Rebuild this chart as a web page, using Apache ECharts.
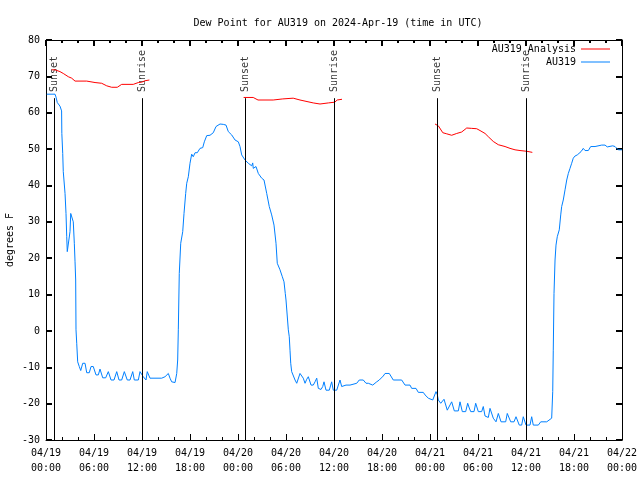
<!DOCTYPE html>
<html>
<head>
<meta charset="utf-8">
<script src="https://cdn.jsdelivr.net/npm/echarts@6/dist/echarts.min.js"></script>
<style>html,body{margin:0;padding:0;background:#fff}#c{width:640px;height:480px}</style>
</head>
<body>
<div id="c"></div>
<script>
const FONT = 'DejaVu Sans Mono';
const titleText = 'Dew Point for AU319 on 2024-Apr-19 (time in UTC)';
const yAxisName = 'degrees F';
const xTickLabels = ['04/19\n00:00','04/19\n06:00','04/19\n12:00','04/19\n18:00','04/20\n00:00','04/20\n06:00','04/20\n12:00','04/20\n18:00','04/21\n00:00','04/21\n06:00','04/21\n12:00','04/21\n18:00','04/22\n00:00'];
const seriesNames = ['AU319 Analysis', 'AU319'];

// hours since 04/19 00:00 UTC
const eventHours = [1.04, 12.0, 24.96, 36.0, 48.92, 60.04];
const eventNames = ['Sunset', 'Sunrise', 'Sunset', 'Sunrise', 'Sunset', 'Sunrise'];
const eventLineTop = 64.0;
const eventLabelBase = 65.7;

const analysisSeg1 = [[0.71,71.8],[0.84,72.2],[1.13,71.8],[1.75,71.3],[2.16,70.8],[2.79,69.9],[3.21,69.5],[3.63,68.7],[5.09,68.7],[6.13,68.3],[6.96,68.1],[7.59,67.4],[8.21,67.0],[8.91,67.0],[9.46,67.8],[10.91,67.8],[11.54,68.3],[11.96,68.4],[12.38,68.8],[12.92,69.0]];
const analysisSeg2 = [[24.7,64.2],[25.9,64.2],[26.5,63.5],[28.4,63.5],[29.6,63.8],[30.9,64.0],[31.75,63.5],[33.4,62.7],[34.25,62.4],[35.3,62.7],[36.1,62.9],[36.4,63.5],[37.0,63.7]];
const analysisSeg3 = [[48.63,56.9],[49.04,56.4],[49.6,54.5],[50.09,54.2],[50.71,53.8],[51.34,54.3],[51.96,54.7],[52.59,55.8],[53.21,55.7],[53.84,55.6],[54.25,55.1],[54.88,54.3],[55.29,53.4],[55.91,52.1],[56.54,51.2],[57.38,50.7],[58.0,50.2],[58.63,49.8],[59.25,49.6],[60.09,49.4],[60.79,49.1]];

const obsData = [
[0.09,65.1],[1.13,65.1],[1.25,64.3],[1.41,62.8],[1.54,62.3],[1.75,61.8],[1.95,60.5],[1.98,54.3],[2.09,48.8],[2.16,43.8],[2.38,37.8],[2.5,32.3],[2.59,25.9],[2.66,21.8],[2.91,21.8],[3.0,27.3],[3.09,32.3],[3.29,32.3],[3.41,30.0],[3.54,24.1],[3.63,19.0],[3.71,14.0],[3.75,0.3],[3.84,-3.4],[3.96,-8.5],
[4.16,-9.8],[4.34,-10.9],[4.59,-8.9],[4.88,-8.9],[5.09,-11.5],[5.41,-11.5],[5.63,-9.8],[5.91,-9.8],[6.25,-12.1],[6.54,-12.1],[6.75,-10.5],[6.96,-10.5],[7.09,-12.9],[7.46,-12.9],[7.79,-11.2],[8.0,-11.2],[8.13,-13.5],[8.5,-13.5],[8.84,-11.2],[9.0,-11.2],[9.13,-13.5],[9.46,-13.5],[9.79,-11.2],[10.0,-11.2],[10.16,-13.5],[10.5,-13.5],[10.84,-11.2],[11.04,-13.5],[11.54,-13.5],[11.75,-11.2],[11.96,-11.2],[12.16,-12.6],[12.5,-13.5],[12.66,-11.2],[13.0,-13.0],[14.46,-13.0],[14.88,-12.6],[15.29,-11.7],[15.5,-13.0],[15.71,-14.0],[16.13,-14.2],[16.34,-11.7],[16.46,-8.0],[16.54,0.3],
[16.66,15.8],[16.84,24.1],[17.09,27.3],[17.25,32.3],[17.46,37.8],[17.59,40.6],[17.79,42.4],[18.0,46.1],[18.21,48.6],[18.41,47.9],[18.63,49.0],[18.91,49.0],[19.25,50.2],[19.59,50.4],[19.79,52.0],[20.09,53.7],[20.5,53.8],[20.91,54.5],[21.25,56.2],[21.75,56.9],[22.16,56.8],[22.5,56.6],[22.79,54.8],[23.21,53.9],[23.63,52.5],[24.04,52.0],[24.25,50.7],[24.46,48.4],[24.88,47.0],[25.29,46.1],[25.71,45.4],[25.84,46.2],[25.91,44.7],[26.25,45.2],[26.54,43.3],[26.96,42.0],[27.25,41.5],[27.59,37.8],[27.91,34.2],[28.21,31.9],[28.5,29.1],[28.75,24.1],[28.91,18.6],[29.25,16.8],[29.54,14.9],[29.75,13.5],[29.91,10.3],[30.0,8.5],[30.29,0.3],[30.41,-1.6],[30.5,-5.3],[30.59,-8.9],
[30.71,-11.2],[30.91,-11.2],[31.13,-13.5],[31.34,-14.4],[31.54,-14.4],[31.75,-11.7],[31.96,-11.8],[32.16,-13.0],[32.38,-14.4],[32.59,-13.3],[32.79,-12.6],[33.0,-12.6],[33.13,-14.9],[33.41,-14.9],[33.63,-14.0],[33.84,-13.0],[34.04,-15.8],[34.38,-16.1],[34.59,-15.3],[34.75,-14.0],[35.0,-16.3],[35.41,-16.3],[35.59,-14.9],[35.71,-14.0],[35.91,-16.3],[36.34,-16.3],[36.75,-13.5],[36.96,-15.3],[37.16,-15.6],[37.5,-14.9],[38.0,-14.9],[38.21,-14.4],[38.84,-14.4],[39.16,-13.5],[39.66,-13.5],[40.0,-14.4],[40.29,-14.4],[40.5,-14.9],[40.84,-14.9],[41.34,-14.0],[41.66,-13.5],[42.16,-12.4],[42.38,-11.7],[42.91,-11.7],[43.41,-13.5],[44.46,-13.5],[44.88,-14.9],[45.5,-14.9],[45.71,-15.8],[46.25,-15.8],[46.54,-16.9],[47.16,-16.9],[47.38,-17.6],[47.79,-18.5],[48.34,-19.0],[48.5,-18.5],[48.75,-16.7],[48.91,-17.5],[49.04,-19.0],[49.25,-19.2],[49.34,-19.9],[49.54,-19.9],[49.75,-18.8],[49.96,-18.8],
[50.16,-21.8],[50.41,-21.8],[50.71,-19.5],[50.91,-19.5],[51.04,-22.0],[51.54,-22.0],[51.75,-19.5],[51.96,-19.5],[52.04,-22.2],[52.46,-22.2],[52.71,-19.9],[52.91,-21.2],[53.09,-22.2],[53.5,-22.2],[53.71,-19.9],[53.91,-19.9],[54.04,-22.2],[54.46,-22.2],[54.66,-20.8],[54.88,-23.4],[55.29,-23.8],[55.5,-21.3],[55.71,-21.3],[55.91,-24.0],[56.25,-25.0],[56.54,-22.7],[56.75,-22.7],[56.88,-25.0],[57.46,-25.0],[57.66,-22.7],[57.91,-22.7],[58.09,-25.0],[58.5,-25.0],[58.75,-23.6],[58.96,-23.6],[59.16,-25.9],[59.46,-25.9],[59.66,-23.6],[59.88,-23.6],[60.0,-25.9],[60.5,-25.9],[60.71,-23.6],[60.91,-25.9],[61.54,-25.9],[61.84,-25.0],[62.59,-25.0],[62.79,-24.5],[63.21,-24.0],[63.34,-16.7],[63.41,-5.3],
[63.5,10.3],[63.63,19.5],[63.75,23.6],[63.91,25.9],[64.13,25.9],[64.16,27.8],[64.34,31.9],[64.46,34.2],[64.66,36.0],[64.88,38.8],[65.09,41.5],[65.29,43.3],[65.5,44.7],[65.71,46.1],[65.91,47.5],[66.13,48.1],[66.41,48.4],[66.66,48.8],[66.88,49.3],[67.16,50.2],[67.38,49.6],[67.79,49.6],[68.09,50.7],[68.63,50.7],[68.84,51.1],[69.46,51.1],[69.66,50.6],[69.88,51.1],[70.16,50.6],[70.38,51.1],[70.84,50.9],[71.13,50.7],[71.34,50.7],[71.54,49.8],[71.75,50.2],[72.0,49.8]
];

const analysisData = analysisSeg1.concat([[18, '-']], analysisSeg2, [[42, '-']], analysisSeg3);

const eventLabelData = eventHours.map((h, i) => ({ value: [h, eventLabelBase], name: eventNames[i] }));
const eventLineData = eventHours.map(h => [{ coord: [h, -30] }, { coord: [h, eventLineTop] }]);

const textStyle = { fontFamily: FONT, fontSize: 10, color: '#000' };

const chart = echarts.init(document.getElementById('c'));
chart.setOption({
  animation: false,
  backgroundColor: '#fff',
  title: {
    text: titleText, left: 333, top: 13, textAlign: 'center',
    textStyle: { fontFamily: FONT, fontSize: 10, fontWeight: 'normal', color: '#000' }
  },
  legend: [
    { data: [seriesNames[0]], right: 30, top: 44, padding: 0, align: 'right', icon: 'rect', itemWidth: 29, itemHeight: 1, textStyle: textStyle, selectedMode: false },
    { data: [seriesNames[1]], right: 30, top: 57, padding: 0, align: 'right', icon: 'rect', itemWidth: 29, itemHeight: 1, textStyle: textStyle, selectedMode: false }
  ],
  grid: { left: 46, right: 18, top: 40, bottom: 40, containLabel: false, outerBoundsMode: 'none' },
  xAxis: [
    { type: 'value', min: 0, max: 72, interval: 6, position: 'bottom',
      axisLine: { show: true, onZero: false, lineStyle: { color: '#000' } },
      axisTick: { show: true, inside: true, length: 6, lineStyle: { color: '#000', width: 1 } },
      minorTick: { show: true, splitNumber: 3, length: 3, lineStyle: { color: '#000', width: 1 } },
      splitLine: { show: false },
      axisLabel: {
        show: true, margin: 6, fontFamily: FONT, fontSize: 10, color: '#000', lineHeight: 15,
        showMinLabel: true, showMaxLabel: true, hideOverlap: false,
        formatter: v => xTickLabels[Math.round(v / 6)]
      } },
    { type: 'value', min: 0, max: 72, interval: 6, position: 'top',
      axisLine: { show: true, onZero: false, lineStyle: { color: '#000' } },
      axisTick: { show: true, inside: true, length: 6, lineStyle: { color: '#000', width: 2 } },
      minorTick: { show: true, splitNumber: 3, length: 3, lineStyle: { color: '#000', width: 2 } },
      splitLine: { show: false }, axisLabel: { show: false } }
  ],
  yAxis: [
    { type: 'value', min: -30, max: 80, interval: 10, position: 'left',
      name: yAxisName, nameLocation: 'middle', nameGap: 31, nameRotate: 90, nameMoveOverlap: false,
      nameTextStyle: { fontFamily: FONT, fontSize: 10, color: '#000' },
      axisLine: { show: true, lineStyle: { color: '#000' } },
      axisTick: { show: true, inside: true, length: 6, lineStyle: { color: '#000', width: 2 } },
      splitLine: { show: false },
      axisLabel: { show: true, margin: 6, fontFamily: FONT, fontSize: 10, color: '#000' } },
    { type: 'value', min: -30, max: 80, interval: 10, position: 'right',
      axisLine: { show: true, onZero: false, lineStyle: { color: '#000' } },
      axisTick: { show: true, inside: true, length: 6, lineStyle: { color: '#000', width: 2 } },
      splitLine: { show: false }, axisLabel: { show: false } }
  ],
  series: [
    {
      name: 'events', type: 'scatter', xAxisIndex: 0, yAxisIndex: 0,
      symbolSize: 0, silent: true, z: 1,
      data: eventLabelData,
      label: {
        show: true, position: 'inside', distance: 0, rotate: 90, align: 'left', verticalAlign: 'middle',
        formatter: p => p.name, fontFamily: FONT, fontSize: 10, color: '#000'
      },
      markLine: {
        silent: true, symbol: ['none', 'none'], animation: false,
        label: { show: false },
        lineStyle: { color: '#000', width: 1, type: 'solid' },
        emphasis: { disabled: true },
        data: eventLineData
      }
    },
    {
      name: seriesNames[0], type: 'line', xAxisIndex: 0, yAxisIndex: 0,
      data: analysisData, showSymbol: false, connectNulls: false, z: 3,
      lineStyle: { color: '#ff0000', width: 1 }, itemStyle: { color: '#ff0000' }
    },
    {
      name: seriesNames[1], type: 'line', xAxisIndex: 0, yAxisIndex: 0,
      data: obsData, showSymbol: false, z: 2,
      lineStyle: { color: '#0080ff', width: 1 }, itemStyle: { color: '#0080ff' }
    }
  ]
});
</script>
</body>
</html>
